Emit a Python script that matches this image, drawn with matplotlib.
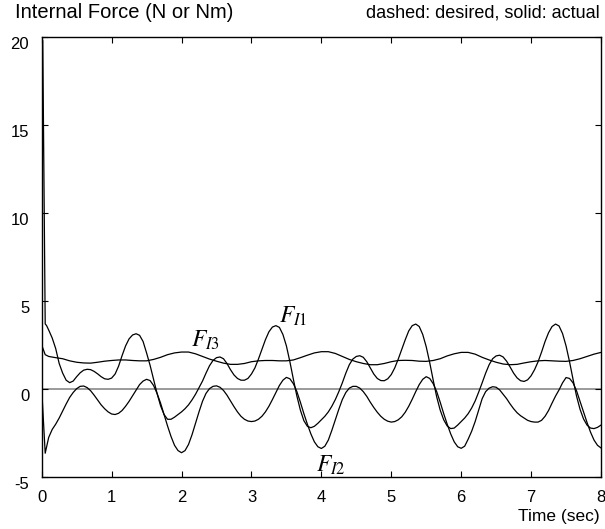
import matplotlib
matplotlib.use("Agg")
import matplotlib.pyplot as plt
import matplotlib.transforms as mtransforms

plt.rcParams['font.family'] = ['Liberation Sans', 'DejaVu Sans']
plt.rcParams['mathtext.fontset'] = 'stix'

# ---- data ----
# F_I1 and F_I2: start-up points, then samples every 0.05 s from 0.10 s to 8.00 s
t_fine = [round(0.1 + 0.05 * i, 2) for i in range(159)]
# F_I3: start-up points, then samples every 0.1 s from 0.1 s to 8.0 s
t_coarse = [round(0.1 * i, 1) for i in range(1, 81)]

t_f1 = [0.0, 0.015, 0.05, 0.07] + t_fine
f_i1 = [0.0, 19.8, 3.7, 3.6,
        3.35, 2.9, 2.3, 1.45, 0.9, 0.5, 0.36, 0.45, 0.7, 0.92,
        1.07, 1.12, 1.1, 1.0, 0.86, 0.7, 0.58, 0.55, 0.62, 0.85,
        1.3, 1.9, 2.45, 2.85, 3.07, 3.14, 3.05, 2.7, 2.05, 1.35,
        0.55, -0.25, -0.95, -1.45, -1.72, -1.72, -1.6, -1.45, -1.3, -1.12,
        -0.9, -0.62, -0.3, 0.07, 0.45, 0.9, 1.32, 1.62, 1.78, 1.82,
        1.72, 1.45, 1.1, 0.8, 0.6, 0.5, 0.5, 0.6, 0.85, 1.2,
        1.7, 2.25, 2.8, 3.25, 3.52, 3.6, 3.5, 3.1, 2.45, 1.55,
        0.55, -0.4, -1.2, -1.8, -2.12, -2.2, -2.12, -1.95, -1.75, -1.55,
        -1.3, -0.98, -0.6, -0.15, 0.35, 0.9, 1.38, 1.7, 1.85, 1.89,
        1.8, 1.55, 1.2, 0.85, 0.6, 0.48, 0.47, 0.58, 0.82, 1.2,
        1.7, 2.25, 2.8, 3.3, 3.6, 3.69, 3.55, 3.1, 2.4, 1.5,
        0.5, -0.45, -1.2, -1.75, -2.1, -2.25, -2.22, -2.05, -1.85, -1.65,
        -1.4, -1.08, -0.68, -0.18, 0.35, 0.9, 1.38, 1.72, 1.88, 1.92,
        1.82, 1.58, 1.25, 0.9, 0.63, 0.47, 0.43, 0.52, 0.75, 1.1,
        1.55, 2.1, 2.7, 3.2, 3.55, 3.69, 3.58, 3.15, 2.45, 1.55,
        0.55, -0.4, -1.15, -1.7, -2.05, -2.22, -2.25, -2.18, -2.05]

t_f2 = [0.0, 0.05] + t_fine
f_i2 = [0.0, -3.65,
        -2.75, -2.3, -2.0, -1.65, -1.25, -0.85, -0.48, -0.2, 0.02, 0.15,
        0.17, 0.08, -0.1, -0.35, -0.62, -0.9, -1.12, -1.3, -1.42, -1.45,
        -1.38, -1.22, -0.98, -0.7, -0.38, -0.05, 0.25, 0.45, 0.55, 0.48,
        0.2, -0.25, -0.8, -1.45, -2.1, -2.7, -3.2, -3.5, -3.62, -3.5,
        -3.15, -2.6, -1.95, -1.3, -0.7, -0.25, 0.02, 0.15, 0.18, 0.1,
        -0.08, -0.35, -0.68, -1.0, -1.3, -1.55, -1.72, -1.82, -1.85, -1.82,
        -1.72, -1.55, -1.3, -0.98, -0.6, -0.2, 0.2, 0.5, 0.66, 0.58,
        0.3, -0.15, -0.75, -1.4, -2.0, -2.55, -3.0, -3.28, -3.38, -3.25,
        -2.9, -2.35, -1.75, -1.15, -0.6, -0.2, 0.05, 0.15, 0.15, 0.05,
        -0.15, -0.42, -0.75, -1.05, -1.32, -1.55, -1.72, -1.83, -1.88, -1.85,
        -1.75, -1.58, -1.32, -0.98, -0.58, -0.15, 0.25, 0.55, 0.7, 0.6,
        0.3, -0.15, -0.75, -1.4, -2.0, -2.55, -3.0, -3.28, -3.37, -3.25,
        -2.85, -2.4, -1.85, -1.2, -0.55, -0.15, 0.05, 0.13, 0.1, -0.05,
        -0.3, -0.55, -0.85, -1.12, -1.35, -1.52, -1.65, -1.78, -1.85, -1.88,
        -1.88, -1.78, -1.55, -1.22, -0.8, -0.4, -0.05, 0.35, 0.65, 0.6,
        0.35, -0.1, -0.7, -1.3, -1.9, -2.45, -2.9, -3.2, -3.35]

t_f3 = [0.0, 0.05] + t_coarse
f_i3 = [2.5, 1.95,
        1.85, 1.78, 1.72, 1.6, 1.52, 1.48, 1.47, 1.52, 1.58, 1.62,
        1.65, 1.65, 1.62, 1.6, 1.6, 1.68, 1.8, 1.95, 2.05, 2.1,
        2.1, 2.0, 1.85, 1.7, 1.58, 1.47, 1.4, 1.4, 1.45, 1.55,
        1.6, 1.62, 1.62, 1.6, 1.6, 1.65, 1.78, 1.92, 2.05, 2.12,
        2.12, 2.02, 1.85, 1.68, 1.55, 1.45, 1.38, 1.38, 1.45, 1.55,
        1.62, 1.63, 1.62, 1.58, 1.57, 1.62, 1.72, 1.88, 2.0, 2.08,
        2.08, 1.98, 1.8, 1.65, 1.52, 1.42, 1.38, 1.4, 1.48, 1.55,
        1.6, 1.62, 1.6, 1.58, 1.57, 1.62, 1.72, 1.85, 1.98, 2.08]

t_desired = [0.0, 8.0]
desired = [0.0, 0.0]

x_ticks = [0, 1, 2, 3, 4, 5, 6, 7, 8]
y_ticks = [-5, 0, 5, 10, 15, 20]
y_ticklabels = ['-5', '0', '5', '10', '15', '20']

# ---- figure ----
W, H = 605, 529
fig = plt.figure(figsize=(W / 100, H / 100), dpi=100)
ax = fig.add_axes([41.7 / W, 1 - 477 / H, (601 - 41.7) / W, (477 - 37) / H])

ax.plot(t_desired, desired, color='#9a9a9a', lw=1.4, zorder=1)
ax.plot(t_f1, f_i1, color='black', lw=0.9, zorder=2)
ax.plot(t_f2, f_i2, color='black', lw=0.9, zorder=2)
ax.plot(t_f3, f_i3, color='black', lw=0.9, zorder=2)

ax.set_xlim(0, 8)
ax.set_ylim(-5, 20)
ax.set_xticks(x_ticks)
ax.set_xticklabels([str(v) for v in x_ticks])
ax.set_yticks(y_ticks)
ax.set_yticklabels(y_ticklabels)
ax.tick_params(direction='in', length=4, width=0.8, top=True, right=True,
               labelsize=12, pad=9)
for s in ax.spines.values():
    s.set_linewidth(1.0)

# y tick labels sit slightly below their ticks in the reference
off = mtransforms.ScaledTranslation(0, -6 / 100, fig.dpi_scale_trans)
for lab in ax.get_yticklabels():
    lab.set_transform(lab.get_transform() + off)

ax.text(3.39, 3.75, r'$F_{I1}$', fontsize=17, ha='left', va='baseline')
ax.text(2.14, 2.4, r'$F_{I3}$', fontsize=17, ha='left', va='baseline')
ax.text(3.93, -4.7, r'$F_{I2}$', fontsize=17, ha='left', va='baseline')

fig.text(15 / W, 1 - 13 / H, 'Internal Force (N or Nm)', fontsize=14.5,
         ha='left', va='center')
fig.text(600 / W, 1 - 13 / H, 'dashed: desired, solid: actual', fontsize=13,
         ha='right', va='center')
fig.text(600 / W, 1 - 516 / H, 'Time (sec)', fontsize=12.5,
         ha='right', va='center')

fig.savefig('out.png', dpi=100)
